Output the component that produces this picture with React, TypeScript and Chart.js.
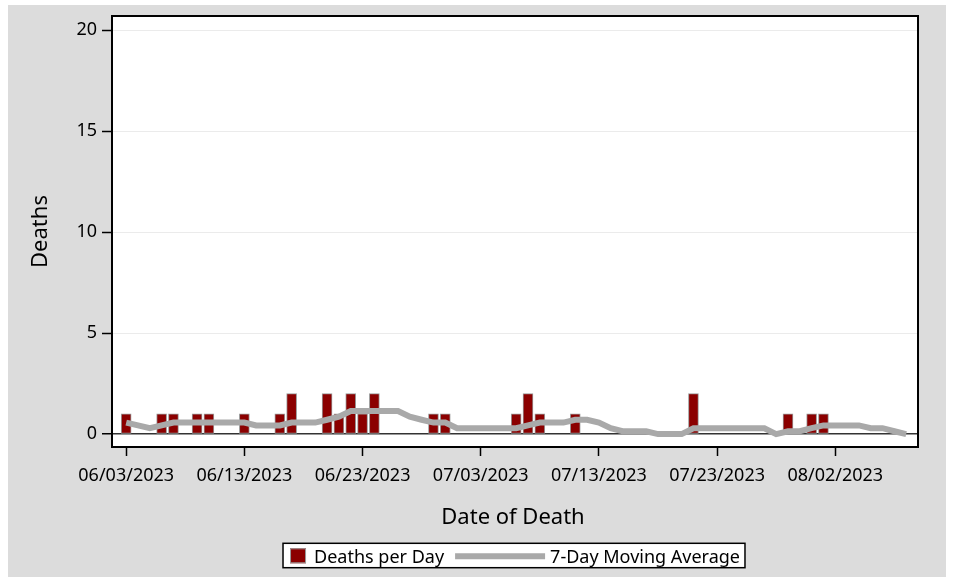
import { useEffect, useRef } from 'react';
import { Chart, registerables } from 'chart.js';

Chart.register(...registerables);

// ---------- data ----------
const dayLabels = [
  '06/03/2023', '06/04/2023', '06/05/2023', '06/06/2023', '06/07/2023', '06/08/2023', '06/09/2023',
  '06/10/2023', '06/11/2023', '06/12/2023', '06/13/2023', '06/14/2023', '06/15/2023', '06/16/2023',
  '06/17/2023', '06/18/2023', '06/19/2023', '06/20/2023', '06/21/2023', '06/22/2023', '06/23/2023',
  '06/24/2023', '06/25/2023', '06/26/2023', '06/27/2023', '06/28/2023', '06/29/2023', '06/30/2023',
  '07/01/2023', '07/02/2023', '07/03/2023', '07/04/2023', '07/05/2023', '07/06/2023', '07/07/2023',
  '07/08/2023', '07/09/2023', '07/10/2023', '07/11/2023', '07/12/2023', '07/13/2023', '07/14/2023',
  '07/15/2023', '07/16/2023', '07/17/2023', '07/18/2023', '07/19/2023', '07/20/2023', '07/21/2023',
  '07/22/2023', '07/23/2023', '07/24/2023', '07/25/2023', '07/26/2023', '07/27/2023', '07/28/2023',
  '07/29/2023', '07/30/2023', '07/31/2023', '08/01/2023', '08/02/2023', '08/03/2023', '08/04/2023',
  '08/05/2023', '08/06/2023', '08/07/2023', '08/08/2023',
];

const deathsPerDay = [
  1, 0, 0, 1, 1, 0, 1, 1, 0, 0,
  1, 0, 0, 1, 2, 0, 0, 2, 1, 2,
  1, 2, 0, 0, 0, 0, 1, 1, 0, 0,
  0, 0, 0, 1, 2, 1, 0, 0, 1, 0,
  0, 0, 0, 0, 0, 0, 0, 0, 2, 0,
  0, 0, 0, 0, 0, 0, 1, 0, 1, 1,
  0, 0, 0, 0, 0, 0, 0,
];

const movingAverage = [
  0.57, 0.43, 0.29, 0.43, 0.57, 0.57, 0.57, 0.57, 0.57, 0.57,
  0.57, 0.43, 0.43, 0.43, 0.57, 0.57, 0.57, 0.71, 0.86, 1.14,
  1.14, 1.14, 1.14, 1.14, 0.86, 0.71, 0.57, 0.57, 0.29, 0.29,
  0.29, 0.29, 0.29, 0.29, 0.43, 0.57, 0.57, 0.57, 0.71, 0.71,
  0.57, 0.29, 0.14, 0.14, 0.14, 0, 0, 0, 0.29, 0.29,
  0.29, 0.29, 0.29, 0.29, 0.29, 0, 0.14, 0.14, 0.29, 0.43,
  0.43, 0.43, 0.43, 0.29, 0.29, 0.14, 0,
];

const xTickLabels = ['06/03/2023', '06/13/2023', '06/23/2023', '07/03/2023', '07/13/2023', '07/23/2023', '08/02/2023'];
const yTickValues = [0, 5, 10, 15, 20];
const seriesNames = ['Deaths per Day', '7-Day Moving Average'];
const xAxisTitle = 'Date of Death';
const yAxisTitle = 'Deaths';

// ---------- style ----------
const FONT = '"Noto Sans", sans-serif';
const BAR_FILL = '#8b0000';
const BAR_EDGE = '#9a9a9a';
const LINE_COLOR = '#a9a9a9';
const BG = '#dcdcdc';
const CANVAS_W = 938;
const CANVAS_H = 572;

const framePlugin = {
  id: 'sasFrame',
  beforeDraw(chart: any) {
    const { ctx, chartArea: a } = chart;
    ctx.save();
    ctx.fillStyle = '#ffffff';
    ctx.fillRect(a.left, a.top, a.right - a.left, a.bottom - a.top);
    ctx.restore();
  },
  afterDraw(chart: any) {
    const { ctx, chartArea: a } = chart;
    ctx.save();
    // plot frame
    ctx.strokeStyle = '#000';
    ctx.lineWidth = 2;
    ctx.strokeRect(a.left, a.top, a.right - a.left, a.bottom - a.top);

    // axis titles
    const cx = (a.left + a.right) / 2;
    ctx.fillStyle = '#000';
    ctx.font = `22px ${FONT}`;
    ctx.textAlign = 'center';
    ctx.textBaseline = 'alphabetic';
    ctx.fillText(xAxisTitle, cx - 2, 519);
    ctx.save();
    ctx.translate(39, (a.top + a.bottom) / 2);
    ctx.rotate(-Math.PI / 2);
    ctx.fillText(yAxisTitle, 0, 0);
    ctx.restore();

    // legend
    ctx.font = `18px ${FONT}`;
    const w1 = ctx.measureText(seriesNames[0]).width;
    const w2 = ctx.measureText(seriesNames[1]).width;
    const padL = 7, sw = 16, gap1 = 8, gap2 = 11, lineLen = 90, gap3 = 5, padR = 5;
    const total = padL + sw + gap1 + w1 + gap2 + lineLen + gap3 + w2 + padR;
    const bx = cx - 1 - total / 2;
    const by = 538.3;
    const bh = 24.4;
    ctx.fillStyle = '#fff';
    ctx.fillRect(bx, by, total, bh);
    ctx.strokeStyle = '#000';
    ctx.lineWidth = 1.5;
    ctx.strokeRect(bx, by, total, bh);

    let x = bx + padL;
    ctx.fillStyle = BAR_FILL;
    ctx.fillRect(x, 543.3, sw, 15);
    ctx.strokeStyle = BAR_EDGE;
    ctx.lineWidth = 1;
    ctx.strokeRect(x + 0.5, 543.8, sw - 1, 14);
    x += sw + gap1;
    ctx.fillStyle = '#000';
    ctx.textAlign = 'left';
    ctx.textBaseline = 'alphabetic';
    ctx.fillText(seriesNames[0], x, 557.8);
    x += w1 + gap2;
    ctx.strokeStyle = LINE_COLOR;
    ctx.lineWidth = 6;
    ctx.beginPath();
    ctx.moveTo(x, 551.3);
    ctx.lineTo(x + lineLen, 551.3);
    ctx.stroke();
    x += lineLen + gap3;
    ctx.fillText(seriesNames[1], x, 557.8);
    ctx.restore();
  },
};

export default function App() {
  const canvasRef = useRef<HTMLCanvasElement | null>(null);

  useEffect(() => {
    if (!canvasRef.current) return;
    Chart.defaults.font.family = FONT;
    const tickDays = xTickLabels.map((l) => dayLabels.indexOf(l));

    const chart = new Chart(canvasRef.current, {
      type: 'bar',
      data: {
        datasets: [
          {
            type: 'line',
            label: seriesNames[1],
            data: movingAverage.map((v, i) => ({ x: i, y: v })),
            borderColor: LINE_COLOR,
            backgroundColor: LINE_COLOR,
            borderWidth: 6,
            pointRadius: 0,
            tension: 0,
            order: 0,
          } as any,
          {
            type: 'bar',
            label: seriesNames[0],
            data: deathsPerDay.map((v, i) => ({ x: i, y: v })),
            backgroundColor: BAR_FILL,
            borderColor: BAR_EDGE,
            borderWidth: 1,
            borderSkipped: false,
            barThickness: 10,
            order: 1,
          } as any,
        ],
      },
      options: {
        animation: false,
        responsive: false,
        layout: { padding: { top: 11, right: 28, left: 0, bottom: 0 } },
        plugins: {
          legend: { display: false },
          tooltip: { enabled: false },
          title: { display: false },
        },
        scales: {
          x: {
            type: 'linear',
            min: -1.2,
            max: 67,
            offset: false,
            afterFit: (s: any) => { s.height = 130; s.paddingLeft = 0; s.paddingRight = 0; },
            afterBuildTicks: (s: any) => { s.ticks = tickDays.map((v) => ({ value: v })); },
            grid: {
              display: true,
              offset: false,
              drawOnChartArea: false,
              drawTicks: true,
              tickLength: 9,
              tickColor: '#000',
              tickWidth: 1.5,
            },
            border: { display: false },
            ticks: {
              autoSkip: false,
              maxRotation: 0,
              padding: 9,
              color: '#000',
              font: { size: 18, family: FONT },
              callback: (v: any) => dayLabels[Number(v)] ?? '',
            },
          },
          y: {
            type: 'linear',
            min: -0.64,
            max: 20.7,
            afterFit: (s: any) => { s.width = 104; s.paddingTop = 0; s.paddingBottom = 0; },
            afterBuildTicks: (s: any) => { s.ticks = yTickValues.map((v) => ({ value: v })); },
            grid: {
              display: true,
              drawOnChartArea: true,
              drawTicks: true,
              tickLength: 10,
              tickColor: '#000',
              tickWidth: 1.5,
              color: (c: any) => (c.tick && c.tick.value === 0 ? '#333333' : '#ebebeb'),
              lineWidth: (c: any) => (c.tick && c.tick.value === 0 ? 1.5 : 1),
            },
            border: { display: false },
            ticks: {
              padding: 5,
              color: '#000',
              font: { size: 18, family: FONT },
              callback: (v: any) => String(v),
            },
          },
        },
      } as any,
      plugins: [framePlugin],
    });

    return () => chart.destroy();
  }, []);

  return (
    <div
      style={{
        position: 'absolute',
        left: 8,
        top: 5,
        width: CANVAS_W,
        height: CANVAS_H,
        background: BG,
      }}
    >
      <canvas ref={canvasRef} width={CANVAS_W} height={CANVAS_H} style={{ width: CANVAS_W, height: CANVAS_H }} />
    </div>
  );
}
